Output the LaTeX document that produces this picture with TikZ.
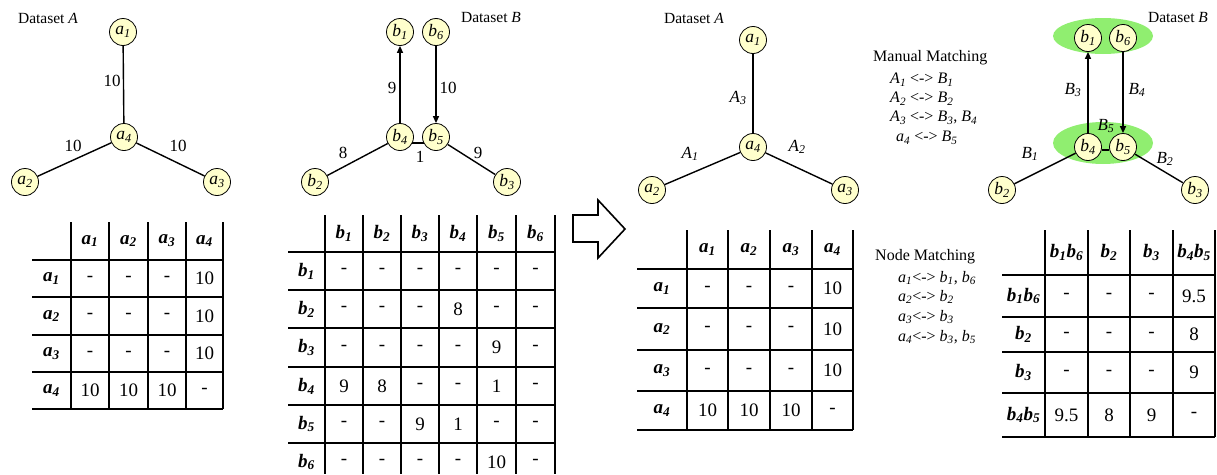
\documentclass[tikz,border=0pt]{standalone}
\usepackage{fontspec}
\setmainfont{Liberation Serif}
\usetikzlibrary{arrows.meta}
\definecolor{nodefill}{HTML}{FFFFCC}
\definecolor{blobgreen}{HTML}{90EE70}
\newcommand\vsub[2]{\textit{#1}\textsubscript{\textit{#2}}}
\newcommand\hd[2]{{\bfseries\vsub{#1}{#2}}}
\tikzset{
 gnode/.style={circle,draw,fill=nodefill,minimum size=27pt,inner sep=0pt,line width=0.8pt,font=\fontsize{17.5}{17.5}\selectfont},
 edge/.style={line width=1.4pt},
 arr/.style={line width=1.4pt,-{Triangle[length=7pt,width=6pt]}},
 lbl/.style={font=\fontsize{15.5}{15.5}\selectfont,inner sep=0pt},
 elbl/.style={font=\fontsize{17}{17}\selectfont,inner sep=0pt},
 txt/.style={font=\fontsize{16}{16}\selectfont,inner sep=0pt,anchor=west},
 tline/.style={line width=2.8pt},
 tcell/.style={font=\fontsize{19}{19}\selectfont,inner sep=0pt},
 blob/.style={fill=blobgreen,draw=none},
 bigarrow/.style={draw,line width=1.6pt,fill=white,line join=miter},
}
\newcommand\drawtable[3]{%
 \foreach \yc/\rowdata [count=\r from 0] in {#3} {
   \foreach \v [count=\c from 0] in \rowdata {
     \pgfmathsetmacro\xc{{#2}[\c]}
     \node[tcell] (#1-\r-\c) at (\xc,\yc) {\v};
   }
 }
}
\begin{document}
\begin{tikzpicture}[x=1pt,y=-1pt]
\useasboundingbox (0,0) rectangle (1217,474);

% ---------- Panel 1: Dataset A ----------
\node[lbl] (dsA1) at (48,18) {Dataset \textit{A}};
\node[gnode] (pa1) at (123,32) {\vsub{a}{1}};
\node[gnode] (pa4) at (124,137) {\vsub{a}{4}};
\node[gnode] (pa2) at (25,182) {\vsub{a}{2}};
\node[gnode] (pa3) at (217,182) {\vsub{a}{3}};
\draw[edge] (pa1) -- (pa4);
\draw[edge] (pa4) -- (pa2);
\draw[edge] (pa4) -- (pa3);
\node[elbl] (l1) at (112,81) {10};
\node[elbl] (l2) at (73,146) {10};
\node[elbl] (l3) at (178,146) {10};

% ---------- Panel 2: Dataset B ----------
\node[lbl] (dsB1) at (491,18) {Dataset \textit{B}};
\node[gnode] (pb1) at (400,32) {\vsub{b}{1}};
\node[gnode] (pb6) at (436,32) {\vsub{b}{6}};
\node[gnode] (pb4) at (400,137) {\vsub{b}{4}};
\node[gnode] (pb5) at (436,137) {\vsub{b}{5}};
\node[gnode] (pb2) at (315,182) {\vsub{b}{2}};
\node[gnode] (pb3) at (507,182) {\vsub{b}{3}};
\draw[arr] (pb4) -- (pb1);
\draw[arr] (pb6) -- (pb5);
\draw[edge] (pb4.-26) -- (pb5.206);
\draw[edge] (pb4) -- (pb2);
\draw[edge] (pb5) -- (pb3);
\node[elbl] (m1) at (392,88) {9};
\node[elbl] (m2) at (448,88) {10};
\node[elbl] (m3) at (343,153) {8};
\node[elbl] (m4) at (420,157) {1};
\node[elbl] (m5) at (478,153) {9};

% ---------- big hollow arrow ----------
\draw[bigarrow] (573,215) -- (598,215) -- (598,200) -- (625,229) -- (598,258) -- (598,242) -- (573,242) -- cycle;

% ---------- Panel 3: Dataset A (matched) ----------
\node[lbl] (dsA2) at (694,18) {Dataset \textit{A}};
\node[gnode] (qa1) at (753,40) {\vsub{a}{1}};
\node[gnode] (qa4) at (753,147) {\vsub{a}{4}};
\node[gnode] (qa2) at (652,190) {\vsub{a}{2}};
\node[gnode] (qa3) at (845,190) {\vsub{a}{3}};
\draw[edge] (qa1) -- (qa4);
\draw[edge] (qa4) -- (qa2);
\draw[edge] (qa4) -- (qa3);
\node[elbl] (n3) at (738,98) {\vsub{A}{3}};
\node[elbl] (n1) at (690,154) {\vsub{A}{1}};
\node[elbl] (n2) at (797,147) {\vsub{A}{2}};

% ---------- Manual matching text ----------
\node[txt] (mm) at (873,58) {Manual Matching};
\node[txt] (mm1) at (890,80) {\vsub{A}{1} <-> \vsub{B}{1}};
\node[txt] (mm2) at (890,99) {\vsub{A}{2} <-> \vsub{B}{2}};
\node[txt] (mm3) at (890,118) {\vsub{A}{3} <-> \vsub{B}{3}, \vsub{B}{4}};
\node[txt] (mm4) at (896,138) {\vsub{a}{4} <-> \vsub{B}{5}};

% ---------- Panel 4: Dataset B (matched) ----------
\node[lbl] (dsB2) at (1178,18) {Dataset \textit{B}};
\fill[blob] (1103,36) ellipse [x radius=50, y radius=18];
\fill[blob] (1103,143) ellipse [x radius=50, y radius=21];
\node[gnode] (rb1) at (1088,38) {\vsub{b}{1}};
\node[gnode] (rb6) at (1123,38) {\vsub{b}{6}};
\node[gnode] (rb4) at (1088,147) {\vsub{b}{4}};
\node[gnode] (rb5) at (1123,147) {\vsub{b}{5}};
\node[gnode] (rb2) at (1002,190) {\vsub{b}{2}};
\node[gnode] (rb3) at (1195,190) {\vsub{b}{3}};
\draw[arr] (rb4) -- (rb1);
\draw[arr] (rb6) -- (rb5);
\draw[edge] (rb4.-13) -- (rb5.193);
\draw[edge] (rb4) -- (rb2);
\draw[edge] (rb5) -- (rb3);
\node[elbl] (o3) at (1073,90) {\vsub{B}{3}};
\node[elbl] (o4) at (1137,90) {\vsub{B}{4}};
\node[elbl] (o5) at (1106,126) {\vsub{B}{5}};
\node[elbl] (o1) at (1030,154) {\vsub{B}{1}};
\node[elbl] (o2) at (1165,159) {\vsub{B}{2}};

% ---------- Node matching text ----------
\node[txt] (nm) at (875,257) {Node Matching};
\node[txt] (nm1) at (898,278) {\vsub{a}{1}<-> \vsub{b}{1}, \vsub{b}{6}};
\node[txt] (nm2) at (898,297) {\vsub{a}{2}<-> \vsub{b}{2}};
\node[txt] (nm3) at (898,317) {\vsub{a}{3}<-> \vsub{b}{3}};
\node[txt] (nm4) at (898,337) {\vsub{a}{4}<-> \vsub{b}{3}, \vsub{b}{5}};

% ---------- Table 1 ----------
\foreach \x in {71,109,148,186,223} \draw[tline] (\x,222) -- (\x,409);
\foreach \y in {260,297,335,372,409} \draw[tline] (32,\y) -- (223,\y);
\drawtable{TA}{51.5,90,128.5,167,204.5}{%
 241/{{},\hd{a}{1},\hd{a}{2},\hd{a}{3},\hd{a}{4}},
 278.5/{\hd{a}{1},-,-,-,10},
 316/{\hd{a}{2},-,-,-,10},
 353.5/{\hd{a}{3},-,-,-,10},
 390.5/{\hd{a}{4},10,10,10,-}}

% ---------- Table 2 ----------
\foreach \x in {325,363,401,439,477,516,555} \draw[tline] (\x,215) -- (\x,474);
\foreach \y in {252,290,328,367,405,443} \draw[tline] (288,\y) -- (555,\y);
\drawtable{TB}{306.5,344,382,420,458,496.5,535.5}{%
 233.5/{{},\hd{b}{1},\hd{b}{2},\hd{b}{3},\hd{b}{4},\hd{b}{5},\hd{b}{6}},
 271/{\hd{b}{1},-,-,-,-,-,-},
 309/{\hd{b}{2},-,-,-,8,-,-},
 347.5/{\hd{b}{3},-,-,-,-,9,-},
 386/{\hd{b}{4},9,8,-,-,1,-},
 424/{\hd{b}{5},-,-,9,1,-,-},
 462/{\hd{b}{6},-,-,-,-,10,-}}

% ---------- Table 3 ----------
\foreach \x in {687,728,770,812,853} \draw[tline] (\x,230) -- (\x,430);
\foreach \y in {269,308,350,391,430} \draw[tline] (637,\y) -- (853,\y);
\drawtable{TC}{662,707.5,749,791,832.5}{%
 249.5/{{},\hd{a}{1},\hd{a}{2},\hd{a}{3},\hd{a}{4}},
 288.5/{\hd{a}{1},-,-,-,10},
 329/{\hd{a}{2},-,-,-,10},
 370.5/{\hd{a}{3},-,-,-,10},
 410.5/{\hd{a}{4},10,10,10,-}}

% ---------- Table 4 ----------
\foreach \x in {1045,1088,1130,1173,1215} \draw[tline] (\x,230) -- (\x,437);
\foreach \y in {275,317,352,393,437} \draw[tline] (1002,\y) -- (1215,\y);
\drawtable{TD}{1023.5,1066.5,1109,1151.5,1194}{%
 252.5/{{},{\hd{b}{1}\hd{b}{6}},\hd{b}{2},\hd{b}{3},{\hd{b}{4}\hd{b}{5}}},
 296/{{\hd{b}{1}\hd{b}{6}},-,-,-,9.5},
 334.5/{\hd{b}{2},-,-,-,8},
 372.5/{\hd{b}{3},-,-,-,9},
 415/{{\hd{b}{4}\hd{b}{5}},9.5,8,9,-}}
\end{tikzpicture}
\end{document}
